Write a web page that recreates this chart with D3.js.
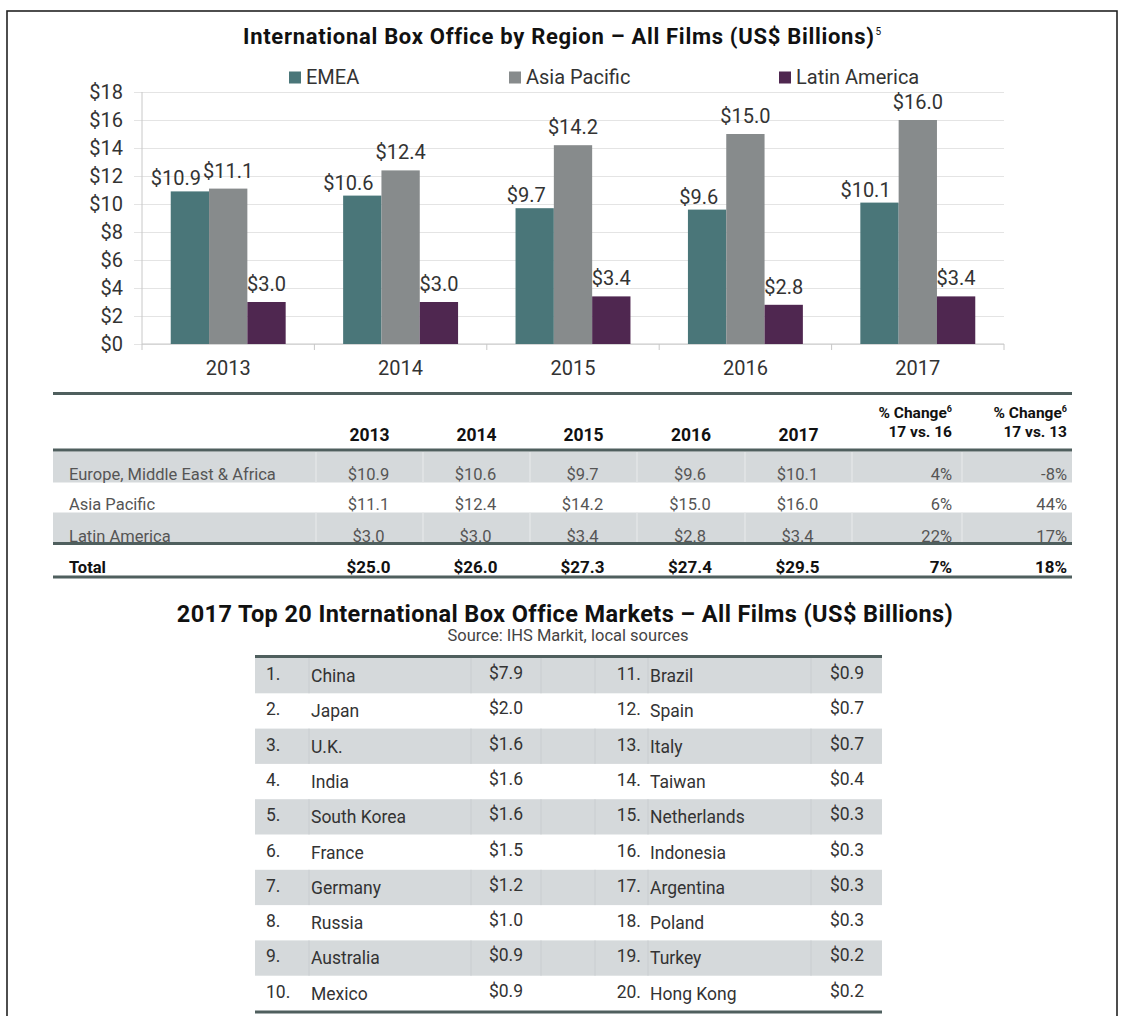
<!DOCTYPE html>
<html><head><meta charset="utf-8">
<script src="https://cdn.jsdelivr.net/npm/d3@7"></script>
<style>body{margin:0;background:#fff} svg{display:block;font-family:Roboto,"Noto Sans",sans-serif}</style>
</head><body><svg id="c" width="1121" height="1016"></svg>
<script>
// ---------- data ----------
const years = ["2013","2014","2015","2016","2017"];
const seriesNames = ["EMEA","Asia Pacific","Latin America"];
const emea = [10.9,10.6,9.7,9.6,10.1];
const asiaPacific = [11.1,12.4,14.2,15.0,16.0];
const latinAmerica = [3.0,3.0,3.4,2.8,3.4];
const yTicks = [0,2,4,6,8,10,12,14,16,18];
const tableRegions = ["Europe, Middle East & Africa","Asia Pacific","Latin America"];
const totals = [25.0,26.0,27.3,27.4,29.5];
const change17vs16 = ["4%","6%","22%"];
const change17vs13 = ["-8%","44%","17%"];
const totalChange17vs16 = "7%";
const totalChange17vs13 = "18%";
const marketNames = ["China","Japan","U.K.","India","South Korea","France","Germany","Russia","Australia","Mexico",
  "Brazil","Spain","Italy","Taiwan","Netherlands","Indonesia","Argentina","Poland","Turkey","Hong Kong"];
const marketValues = [7.9,2.0,1.6,1.6,1.6,1.5,1.2,1.0,0.9,0.9,0.9,0.7,0.7,0.4,0.3,0.3,0.3,0.3,0.2,0.2];

const colors = ["#4a7679","#878b8c","#4f2750"];
const seriesData = [emea, asiaPacific, latinAmerica];
const fmt = v => "$" + v.toFixed(1);

const svg = d3.select("#c");
svg.append("rect").attr("width",1121).attr("height",1016).attr("fill","#fff");
// frame
svg.append("rect").attr("x",7).attr("y",11).attr("width",1110).attr("height",1030)
  .attr("fill","none").attr("stroke","#222").attr("stroke-width",1.6);

// ---------- chart 1 ----------
const t1 = svg.append("text").attr("x",243).attr("y",44).attr("font-size",22).attr("font-weight",700).attr("fill","#111")
  .attr("letter-spacing",0.7);
t1.append("tspan").text("International Box Office by Region \u2013 All Films (US$ Billions)");
t1.append("tspan").text("5").attr("font-size",10).attr("font-weight",400).attr("dy",-9).attr("dx",1);

const x = d3.scaleBand().domain(years).range([142,1004]);
const x1 = d3.scaleBand().domain(seriesNames).range([0,x.bandwidth()]).paddingInner(0).paddingOuter(0.75);
const y = d3.scaleLinear().domain([0,18]).range([344,92]);

// gridlines + y labels
const ga = svg.append("g").attr("transform","translate(1004,0)")
  .call(d3.axisLeft(y).tickValues(yTicks).tickFormat(d=>"$"+d).tickSize(870).tickPadding(11));
ga.select(".domain").remove();
ga.selectAll(".tick line").attr("stroke","#e4e4e4");
ga.selectAll(".tick text").attr("font-size",20).attr("fill","#333").attr("font-family","Roboto");
// axis lines
svg.append("line").attr("x1",142).attr("x2",142).attr("y1",92).attr("y2",344).attr("stroke","#c8c8c8");
svg.append("line").attr("x1",142).attr("x2",1004).attr("y1",344).attr("y2",344).attr("stroke","#c8c8c8");
const xa = svg.append("g").attr("transform","translate(0,344)")
  .call(d3.axisBottom(x).tickSize(0).tickPadding(17));
xa.select(".domain").remove();
xa.selectAll(".tick text").attr("font-size",20).attr("fill","#333").attr("font-family","Roboto");
svg.append("g").selectAll("line").data(years.map(d=>x(d)).concat([x.range()[1]])).join("line")
  .attr("x1",d=>d).attr("x2",d=>d).attr("y1",344).attr("y2",350).attr("stroke","#c8c8c8");

// bars
const groups = svg.append("g").selectAll("g").data(years).join("g")
  .attr("transform",d=>`translate(${x(d)},0)`);
groups.each(function(yr,i){
  const g = d3.select(this);
  seriesNames.forEach((s,k)=>{
    const v = seriesData[k][i];
    g.append("rect").attr("x",x1(s)).attr("y",y(v)).attr("width",x1.bandwidth()).attr("height",y(0)-y(v)).attr("fill",colors[k]);
    const lab = g.append("text").text(fmt(v)).attr("font-size",20).attr("fill","#333");
    if(k===0){ lab.attr("x",x1(s)+x1.bandwidth()-8).attr("y",y(v)-6).attr("text-anchor","end"); }
    else { lab.attr("x",x1(s)+x1.bandwidth()/2).attr("y",y(v)-11).attr("text-anchor","middle"); }
  });
});

// legend
const legX = [289,509,779];
seriesNames.forEach((s,k)=>{
  svg.append("rect").attr("x",legX[k]).attr("y",71.5).attr("width",12).attr("height",12).attr("fill",colors[k]);
  svg.append("text").attr("x",legX[k]+17).attr("y",84).attr("font-size",20).attr("fill","#333").text(s);
});

// ---------- table 1 ----------
const lineCol = "#4f5f5e", shade = "#d5d9db";
const c1 = [53,316,423,530,637,745,852,962,1072];
const rowTops = [451.5,481.5,512.5], rowH = 31;
rowTops.forEach((t,r)=>{
  if(r!==1){
    svg.append("rect").attr("x",c1[0]).attr("y",t).attr("width",c1[8]-c1[0]).attr("height",rowH).attr("fill",shade);
    c1.slice(1,8).forEach(cx=>svg.append("line").attr("x1",cx).attr("x2",cx).attr("y1",t).attr("y2",t+rowH).attr("stroke","#e6e8e9").attr("stroke-width",1.2));
  }
});
[393.5,450,543.5,577].forEach(ly=>svg.append("rect").attr("x",c1[0]).attr("y",ly-1.5).attr("width",c1[8]-c1[0]).attr("height",3).attr("fill",lineCol));
// header
years.forEach((yr,i)=>svg.append("text").attr("x",(c1[i+1]+c1[i+2])/2).attr("y",441).attr("text-anchor","middle")
  .attr("font-size",17.5).attr("font-weight",700).attr("fill","#111").text(yr));
[[c1[7]-10,"17 vs. 16"],[c1[8]-5,"17 vs. 13"]].forEach(([hx,sub])=>{
  const h = svg.append("text").attr("x",hx).attr("y",418).attr("text-anchor","end").attr("font-size",15.5).attr("font-weight",700).attr("fill","#111");
  h.append("tspan").text("% Change");
  h.append("tspan").text("6").attr("font-size",9).attr("dy",-6);
  svg.append("text").attr("x",hx).attr("y",437).attr("text-anchor","end").attr("font-size",15.5).attr("font-weight",700).attr("fill","#111").text(sub);
});
// rows
const rowBase = [480,510,541.5];
tableRegions.forEach((name,r)=>{
  svg.append("text").attr("x",69).attr("y",rowBase[r]).attr("font-size",16.5).attr("fill","#555").text(name);
  years.forEach((yr,i)=>svg.append("text").attr("x",(c1[i+1]+c1[i+2])/2-1).attr("y",rowBase[r]).attr("text-anchor","middle")
    .attr("font-size",16.5).attr("fill","#555").text(fmt(seriesData[r][i])));
  svg.append("text").attr("x",c1[7]-10).attr("y",rowBase[r]).attr("text-anchor","end").attr("font-size",16.5).attr("fill","#555").text(change17vs16[r]);
  svg.append("text").attr("x",c1[8]-5).attr("y",rowBase[r]).attr("text-anchor","end").attr("font-size",16.5).attr("fill","#555").text(change17vs13[r]);
});
svg.append("text").attr("x",69).attr("y",573).attr("font-size",16.5).attr("font-weight",700).attr("fill","#111").text("Total");
totals.forEach((v,i)=>svg.append("text").attr("x",(c1[i+1]+c1[i+2])/2-1).attr("y",573).attr("text-anchor","middle")
  .attr("font-size",17).attr("font-weight",700).attr("fill","#111").text(fmt(v)));
svg.append("text").attr("x",c1[7]-10).attr("y",573).attr("text-anchor","end").attr("font-size",17).attr("font-weight",700).attr("fill","#111").text(totalChange17vs16);
svg.append("text").attr("x",c1[8]-5).attr("y",573).attr("text-anchor","end").attr("font-size",17).attr("font-weight",700).attr("fill","#111").text(totalChange17vs13);

// ---------- table 2 ----------
svg.append("text").attr("x",565).attr("y",622).attr("text-anchor","middle").attr("font-size",23.5).attr("font-weight",700).attr("fill","#111")
  .attr("letter-spacing",0.4)
  .text("2017 Top 20 International Box Office Markets \u2013 All Films (US$ Billions)");
svg.append("text").attr("x",568).attr("y",641).attr("text-anchor","middle").attr("font-size",16.5).attr("fill","#444")
  .text("Source: IHS Markit, local sources");
const c2 = [255,309,471,541,595,648,811,882];
const r2Top = 658, r2H = 35.3;
const rows2 = d3.range(10);
rows2.forEach(r=>{
  const t = r2Top + r*r2H;
  if(r%2===0){
    svg.append("rect").attr("x",c2[0]).attr("y",t).attr("width",c2[7]-c2[0]).attr("height",r2H).attr("fill",shade);
    c2.slice(1,7).forEach(cx=>svg.append("line").attr("x1",cx).attr("x2",cx).attr("y1",t).attr("y2",t+r2H).attr("stroke","#c9cdd0").attr("stroke-width",1));
  }
  const L = r, R = r+10;
  svg.append("text").attr("x",266).attr("y",t+22).attr("font-size",17.5).attr("fill","#333").text((L+1)+".");
  svg.append("text").attr("x",311).attr("y",t+24).attr("font-size",17.5).attr("fill","#333").text(marketNames[L]);
  svg.append("text").attr("x",523).attr("y",t+21).attr("text-anchor","end").attr("font-size",17.5).attr("fill","#333").text(fmt(marketValues[L]));
  svg.append("text").attr("x",641).attr("y",t+22).attr("text-anchor","end").attr("font-size",17.5).attr("fill","#333").text((R+1)+".");
  svg.append("text").attr("x",650).attr("y",t+24).attr("font-size",17.5).attr("fill","#333").text(marketNames[R]);
  svg.append("text").attr("x",864).attr("y",t+21).attr("text-anchor","end").attr("font-size",17.5).attr("fill","#333").text(fmt(marketValues[R]));
});
[656.5, r2Top+10*r2H+1].forEach(ly=>svg.append("rect").attr("x",c2[0]).attr("y",ly-1.5).attr("width",c2[7]-c2[0]).attr("height",3).attr("fill",lineCol));
</script></body></html>
